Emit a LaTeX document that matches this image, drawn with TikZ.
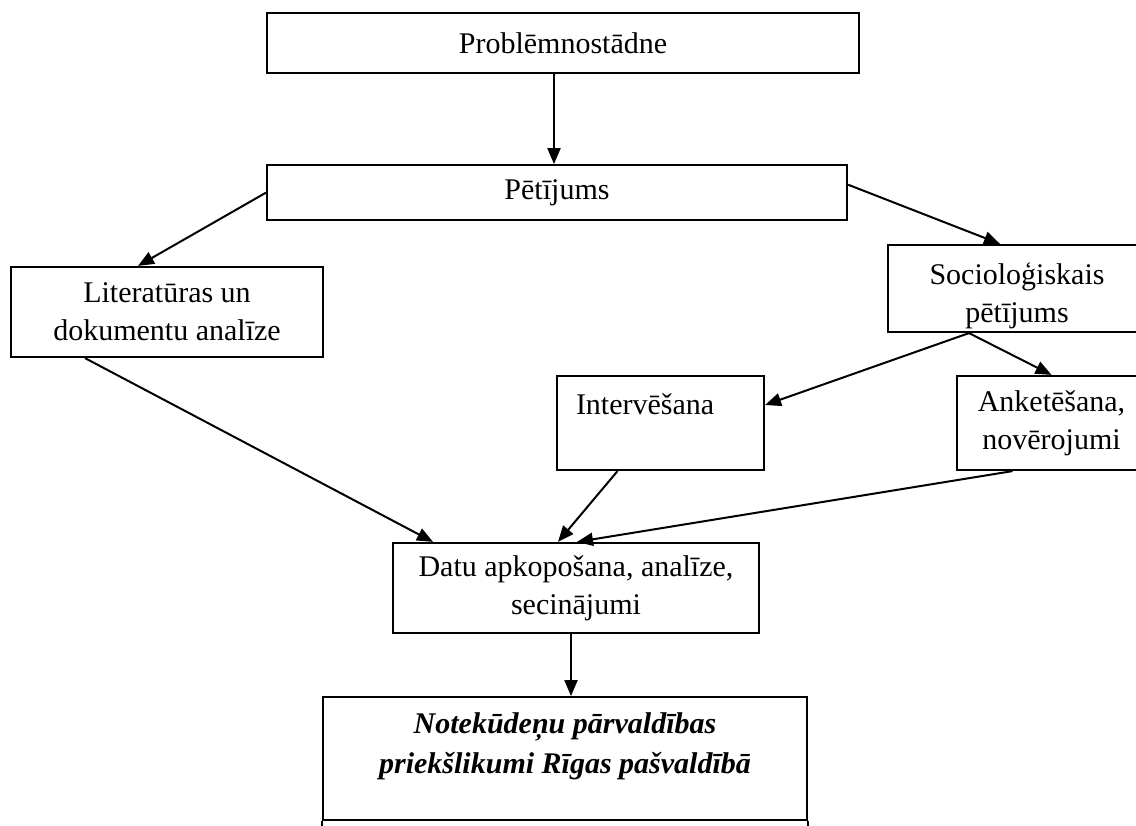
\documentclass[tikz,border=0pt]{standalone}
\usepackage{fontspec}
\setmainfont{Liberation Serif}
\usetikzlibrary{arrows.meta,positioning}
\tikzset{
  blk/.style={rectangle,draw=black,line width=2.2pt,fill=white,align=center,
              inner sep=0pt,font=\fontsize{30}{38}\selectfont},
  lblk/.style={blk,align=left,inner xsep=19pt},
  rblk/.style={blk,font=\fontsize{30}{40}\selectfont\bfseries\itshape},
  fl/.style={-{Triangle[length=16pt,width=13pt]},line width=2pt},
}
\begin{document}
\begin{tikzpicture}[x=1pt,y=-1pt]
  \useasboundingbox (0,0) rectangle (1136,826);
  \clip (0,0) rectangle (1136,826);
  \node[blk,minimum width=592pt,minimum height=60pt] (prob) at (563,43) {Problēmnostādne};
  \node[blk,below=90pt of prob,xshift=-6pt,minimum width=580pt,minimum height=55pt] (pet) {Pētījums};
  \node[blk,minimum width=312pt,minimum height=90pt] (lit) at (167,312)
    {Literatūras un\\dokumentu analīze};
  \node[blk,minimum width=258pt,minimum height=87pt] (soc) at (1017,288.5)
    {\rule{0pt}{37pt}Socioloģiskais\\pētījums};
  \node[lblk,text width=169pt,minimum height=94pt] (interv) at (660.5,423)
    {Intervēšana\\\mbox{}};
  \node[blk,minimum width=189pt,minimum height=94pt] (anket) at (1051.5,423)
    {Anketēšana,\\novērojumi};
  \node[blk,minimum width=366pt,minimum height=90pt] (datu) at (576,588)
    {Datu apkopošana, analīze,\\secinājumi};
  \node[rblk,below=62pt of datu,xshift=-11pt,minimum width=484pt,minimum height=123pt] (notek)
    {\rule{0pt}{30pt}Notekūdeņu pārvaldības\\priekšlikumi Rīgas pašvaldībā\\\mbox{}};
  % second row of the last box, cut by the page
  \draw[line width=2.2pt] (notek.south west) -- ++(0,20);
  \draw[line width=2.2pt] (notek.south east) -- ++(0,20);
  \draw[fl] ([xshift=-9pt]prob.south) -- ([xshift=-3pt]pet.north);
  \draw[fl] (pet.west) -- ([xshift=-29pt]lit.north);
  \draw[fl] ([yshift=8pt]pet.east) -- ([xshift=-17pt]soc.north);
  \draw[fl] ([xshift=-48pt]soc.south) -- ([yshift=18pt]interv.east);
  \draw[fl] ([xshift=-48pt]soc.south) -- (anket.north);
  \draw[fl] ([xshift=-82pt]lit.south) -- ([xshift=-143pt]datu.north);
  \draw[fl] ([xshift=-43pt]interv.south) -- ([xshift=-18pt]datu.north);
  \draw[fl] ([xshift=-39pt]anket.south) -- ([xshift=1pt]datu.north);
  \draw[fl] ([xshift=-5pt]datu.south) -- ([xshift=6pt]notek.north);
\end{tikzpicture}
\end{document}
